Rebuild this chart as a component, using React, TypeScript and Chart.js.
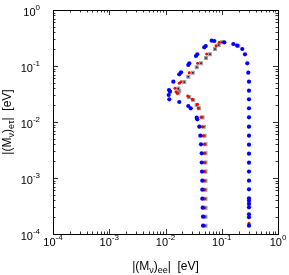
import React, { useEffect, useRef } from "react";
import { Chart, registerables } from "chart.js";

Chart.register(...registerables);

// Blue series (|M_ee|, |M_etau|) in eV
const blueEE = [
  0.0464, 0.0464, 0.0458, 0.0451, 0.0451, 0.0451, 0.0446, 0.044, 0.044, 0.0428, 0.0416, 0.0399,
  0.0367, 0.0359, 0.0281, 0.0254, 0.01758, 0.01169, 0.0114, 0.01202, 0.01154, 0.01377, 0.01758,
  0.01886, 0.0254, 0.0265, 0.0348, 0.0367, 0.0489, 0.0519, 0.0663, 0.0738, 0.111, 0.1604, 0.1888,
  0.2317, 0.2588, 0.2844, 0.2964, 0.305, 0.305, 0.305, 0.305, 0.305, 0.305, 0.305, 0.305, 0.305,
  0.305, 0.305, 0.305, 0.305, 0.305, 0.305, 0.305, 0.305, 0.305, 0.305, 0.305,
];
const blueET = [
  1.41e-4, 2.04e-4, 2.95e-4, 4.27e-4, 6.18e-4, 8.95e-4, 1.3e-3, 1.89e-3, 2.76e-3, 4.0e-3, 5.69e-3,
  8.24e-3, 0.01117, 0.01194, 0.01758, 0.01931, 0.02276, 0.02544, 0.03034, 0.03475, 0.03726, 0.05248,
  0.07108, 0.07713, 0.1042, 0.1117, 0.1509, 0.1618, 0.2158, 0.2276, 0.2831, 0.2794, 0.2651, 0.2471,
  0.2304, 0.2012, 0.1618, 0.1117, 0.0759, 0.0525, 0.0362, 0.0254, 0.0176, 0.01213, 8.24e-3, 5.69e-3,
  3.93e-3, 2.72e-3, 1.88e-3, 1.3e-3, 8.95e-4, 6.28e-4, 4.34e-4, 3.94e-4, 3.43e-4, 3.0e-4, 2.25e-4,
  1.99e-4, 1.41e-4,
];

// Red series
const redEE = [
  0.0493, 0.0493, 0.0493, 0.0493, 0.0493, 0.0493, 0.0493, 0.0493, 0.0493, 0.0493, 0.047, 0.0451,
  0.0428, 0.0383, 0.0367, 0.0299, 0.0248, 0.0162, 0.01538, 0.01475, 0.01758, 0.01886, 0.0265, 0.0373,
  0.054, 0.0791, 0.0904, 0.1791, 0.305, 0.305,
];
const redET = [
  1.41e-4, 2.04e-4, 2.95e-4, 4.27e-4, 6.18e-4, 8.95e-4, 1.3e-3, 1.89e-3, 2.76e-3, 4.0e-3, 5.69e-3,
  8.24e-3, 0.0121, 0.01758, 0.0207, 0.0254, 0.0291, 0.0326, 0.0348, 0.04, 0.0491, 0.0525, 0.0759,
  0.1117, 0.1637, 0.2304, 0.2651, 0.2371, 3.68e-4, 1.55e-4,
];

// Gray series
const grayEE = [
  0.1009, 0.0883, 0.0759, 0.0618, 0.0525, 0.0428, 0.0359, 0.0305, 0.0254, 0.0216, 0.01758, 0.0169,
  0.0169, 0.0262, 0.0312, 0.0359, 0.0394, 0.0455, 0.048, 0.0495, 0.0514, 0.0514, 0.0514, 0.0514,
  0.0514, 0.0514, 0.0514, 0.0514, 0.0514, 0.0514, 0.1967,
];
const grayET = [
  0.2651, 0.2371, 0.2012, 0.1618, 0.139, 0.1117, 0.0948, 0.0759, 0.0644, 0.0518, 0.0358, 0.0326,
  0.0395, 0.0279, 0.0247, 0.0201, 0.01758, 0.0121, 8.24e-3, 5.69e-3, 4.0e-3, 2.76e-3, 1.89e-3,
  1.3e-3, 8.95e-4, 6.18e-4, 4.27e-4, 2.95e-4, 2.04e-4, 1.41e-4, 0.2304,
];

const xTickExps = ["-4", "-3", "-2", "-1", "0"];
const yTickExps = ["-4", "-3", "-2", "-1", "0"];

const FONT = "'Liberation Sans', Arial, Helvetica, sans-serif";

const zip = (xs: number[], ys: number[]) => xs.map((x, i) => ({ x, y: ys[i] }));

type Part = { t: string; size: number; dy: number };

function measure(ctx: CanvasRenderingContext2D, parts: Part[]) {
  let w = 0;
  for (const p of parts) {
    ctx.font = `${p.size}px ${FONT}`;
    w += ctx.measureText(p.t).width;
  }
  return w;
}

function drawParts(ctx: CanvasRenderingContext2D, parts: Part[], x: number, y: number) {
  let cx = x;
  for (const p of parts) {
    ctx.font = `${p.size}px ${FONT}`;
    ctx.fillText(p.t, cx, y + p.dy);
    cx += ctx.measureText(p.t).width;
  }
}

const framePlugin = {
  id: "gnuframe",
  afterDraw(chart: any) {
    const ctx: CanvasRenderingContext2D = chart.ctx;
    const { left, right, top, bottom } = chart.chartArea;
    const xs = chart.scales.x;
    const ys = chart.scales.y;
    ctx.save();
    // ticks
    ctx.strokeStyle = "#333";
    ctx.lineWidth = 1;
    ctx.beginPath();
    for (let e = -4; e <= 0; e++) {
      for (let m = 1; m <= 9; m++) {
        const v = m * Math.pow(10, e);
        if (v > 1.0000001) continue;
        const len = m === 1 ? 5 : 2.5;
        const px = Math.round(xs.getPixelForValue(v)) + 0.5;
        ctx.moveTo(px, bottom);
        ctx.lineTo(px, bottom - len);
        ctx.moveTo(px, top);
        ctx.lineTo(px, top + len);
        const py = Math.round(ys.getPixelForValue(v)) + 0.5;
        ctx.moveTo(left, py);
        ctx.lineTo(left + len, py);
        ctx.moveTo(right, py);
        ctx.lineTo(right - len, py);
      }
    }
    ctx.stroke();
    // frame
    ctx.strokeStyle = "#000";
    ctx.strokeRect(Math.round(left) + 0.5, Math.round(top) + 0.5, Math.round(right - left), Math.round(bottom - top));

    ctx.fillStyle = "#000";
    ctx.textBaseline = "alphabetic";
    ctx.textAlign = "left";
    // x tick labels
    xTickExps.forEach((ex) => {
      const v = Math.pow(10, Number(ex));
      const px = xs.getPixelForValue(v);
      const parts: Part[] = [
        { t: "10", size: 11, dy: 0 },
        { t: ex, size: 8, dy: -6.5 },
      ];
      const w = measure(ctx, parts);
      drawParts(ctx, parts, px - w / 2, bottom + 12);
    });
    // y tick labels
    yTickExps.forEach((ex) => {
      const v = Math.pow(10, Number(ex));
      const py = ys.getPixelForValue(v);
      const parts: Part[] = [
        { t: "10", size: 11, dy: 0 },
        { t: ex, size: 8, dy: -6.5 },
      ];
      const w = measure(ctx, parts);
      drawParts(ctx, parts, left - 13 - w, py + 6);
    });
    // x title
    const xt: Part[] = [
      { t: "|(M", size: 12, dy: 0 },
      { t: "ν", size: 9, dy: 2.5 },
      { t: ")", size: 12, dy: 0 },
      { t: "ee", size: 9, dy: 2.5 },
      { t: "|  [eV]", size: 12, dy: 0 },
    ];
    const xw = measure(ctx, xt);
    drawParts(ctx, xt, (left + right) / 2 - xw / 2, 270);
    // y title
    const yt: Part[] = [
      { t: "|(M", size: 12, dy: 0 },
      { t: "ν", size: 9, dy: 2.5 },
      { t: ")", size: 12, dy: 0 },
      { t: "eτ", size: 9, dy: 2.5 },
      { t: "|  [eV]", size: 12, dy: 0 },
    ];
    const yw = measure(ctx, yt);
    ctx.translate(11, (top + bottom) / 2);
    ctx.rotate(-Math.PI / 2);
    drawParts(ctx, yt, -yw / 2, 0);
    ctx.restore();
  },
};

export default function App() {
  const ref = useRef<HTMLCanvasElement | null>(null);
  useEffect(() => {
    document.body.style.margin = "0";
    const canvas = ref.current;
    if (!canvas) return;
    const chart = new Chart(canvas, {
      type: "scatter",
      data: {
        datasets: [
          {
            label: "blue",
            data: zip(blueEE, blueET),
            backgroundColor: "#0000ff",
            borderColor: "#0000ff",
            pointRadius: 2.1,
            borderWidth: 0,
          },
          {
            label: "red",
            data: zip(redEE, redET),
            backgroundColor: "#ff0000",
            borderColor: "#ff0000",
            pointRadius: 1.5,
            borderWidth: 0,
          },
          {
            label: "gray",
            data: zip(grayEE, grayET),
            pointStyle: "rect",
            backgroundColor: "#222",
            borderColor: "#a0a0a0",
            pointRadius: 2,
            borderWidth: 1.2,
          },
        ],
      },
      options: {
        responsive: false,
        animation: false,
        events: [],
        layout: { padding: { left: 53, right: 11, top: 10, bottom: 41 } },
        plugins: { legend: { display: false }, tooltip: { enabled: false } },
        scales: {
          x: {
            type: "logarithmic",
            min: 1e-4,
            max: 1,
            ticks: { display: false },
            grid: { display: false },
            border: { display: false },
            afterFit: (s: any) => {
              s.height = 0;
            },
          },
          y: {
            type: "logarithmic",
            min: 1e-4,
            max: 1,
            ticks: { display: false },
            grid: { display: false },
            border: { display: false },
            afterFit: (s: any) => {
              s.width = 0;
            },
          },
        },
      },
      plugins: [framePlugin],
    });
    return () => chart.destroy();
  }, []);
  return <canvas ref={ref} width={289} height={275} style={{ display: "block" }} />;
}
